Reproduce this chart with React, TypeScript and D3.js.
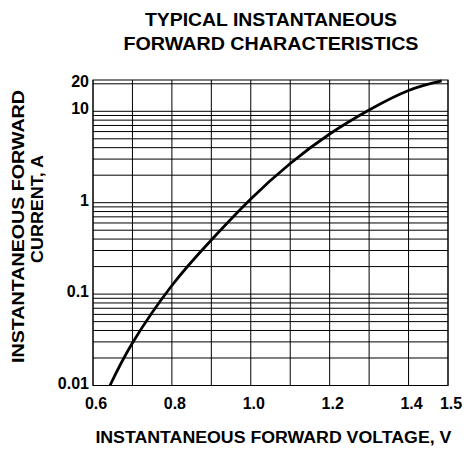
import React from "react";
import * as d3 from "d3";

// Curve data (forward voltage V, forward current A)
const voltage = [0.643, 0.7, 0.8, 0.9, 1.0, 1.1, 1.2, 1.3, 1.4, 1.484];
const current = [0.01, 0.0292, 0.1242, 0.391, 1.098, 2.685, 5.644, 10.33, 16.89, 21.5];

const xTickValues = [0.6, 0.8, 1.0, 1.2, 1.4, 1.5];
const xTickLabels = ["0.6", "0.8", "1.0", "1.2", "1.4", "1.5"];
const xGridValues = [0.6, 0.7, 0.8, 0.9, 1.0, 1.1, 1.2, 1.3, 1.4, 1.5];

const yTickValues = [0.01, 0.1, 1, 10, 20];
const yTickLabels = ["0.01", "0.1", "1", "10", "20"];
const decades = [0.01, 0.1, 1];
const minorMultipliers = [1, 2, 3, 4, 5, 6, 7, 8, 9];
const yExtraGrid = [10, 20];

const titleLines = ["TYPICAL INSTANTANEOUS", "FORWARD CHARACTERISTICS"];
const xTitle = "INSTANTANEOUS FORWARD VOLTAGE, V";
const yTitleLines = ["INSTANTANEOUS FORWARD", "CURRENT, A"];

const W = 472;
const H = 453;
const left = 93;
const right = 448;
const top = 80;
const bottom = 385.5;
const yMin = 0.01;
const yMax = 22;

const FONT = "'Liberation Sans', Arial, Helvetica, sans-serif";

export default function App() {
  const x = d3.scaleLinear().domain([0.6, 1.5]).range([left, right]);
  const y = d3.scaleLog().domain([yMin, yMax]).range([bottom, top]);

  const yGrid: number[] = [];
  decades.forEach((d) => minorMultipliers.forEach((m) => yGrid.push(d * m)));
  yExtraGrid.forEach((v) => yGrid.push(v));

  const pts: [number, number][] = voltage.map((v, i) => [v, current[i]]);
  const line = d3
    .line<[number, number]>()
    .x((d) => x(d[0]))
    .y((d) => y(d[1]))
    .curve(d3.curveNatural);

  return (
    <svg
      width={W}
      height={H}
      style={{ position: "absolute", left: 0, top: 0, background: "#fff" }}
      fontFamily={FONT}
      fontWeight="bold"
    >
      <rect x={0} y={0} width={W} height={H} fill="#fff" />
      {/* grid */}
      <g stroke="#000" strokeWidth={1}>
        {yGrid.map((v, i) => (
          <line key={"h" + i} x1={left} x2={right} y1={y(v)} y2={y(v)} />
        ))}
        {xGridValues.map((v, i) => (
          <line key={"v" + i} x1={x(v)} x2={x(v)} y1={top} y2={bottom} />
        ))}
        <rect x={left} y={top} width={right - left} height={bottom - top} fill="none" />
      </g>
      {/* curve */}
      <path d={line(pts) || ""} fill="none" stroke="#000" strokeWidth={2.8} strokeLinejoin="round" />
      {/* y tick labels */}
      {yTickValues.map((v, i) => (
        <text key={"yl" + i} x={89} y={y(v) + 3} textAnchor="end" fontSize={16}>
          {yTickLabels[i]}
        </text>
      ))}
      {/* x tick labels */}
      {xTickValues.map((v, i) => (
        <text key={"xl" + i} x={x(v) + 3} y={408.5} textAnchor="middle" fontSize={16}>
          {xTickLabels[i]}
        </text>
      ))}
      {/* title */}
      <text x={271} y={26} textAnchor="middle" fontSize={19} textLength={252} lengthAdjust="spacingAndGlyphs">
        {titleLines[0]}
      </text>
      <text x={271} y={50} textAnchor="middle" fontSize={19} textLength={295} lengthAdjust="spacingAndGlyphs">
        {titleLines[1]}
      </text>
      {/* x title */}
      <text x={273.4} y={443.3} textAnchor="middle" fontSize={16} textLength={356} lengthAdjust="spacingAndGlyphs">
        {xTitle}
      </text>
      {/* y title */}
      <text
        transform="translate(23.5,226.5) rotate(-90)"
        textAnchor="middle"
        fontSize={16}
        textLength={273}
        lengthAdjust="spacingAndGlyphs"
      >
        {yTitleLines[0]}
      </text>
      <text
        transform="translate(42.5,209) rotate(-90)"
        textAnchor="middle"
        fontSize={16}
        textLength={108}
        lengthAdjust="spacingAndGlyphs"
      >
        {yTitleLines[1]}
      </text>
    </svg>
  );
}
